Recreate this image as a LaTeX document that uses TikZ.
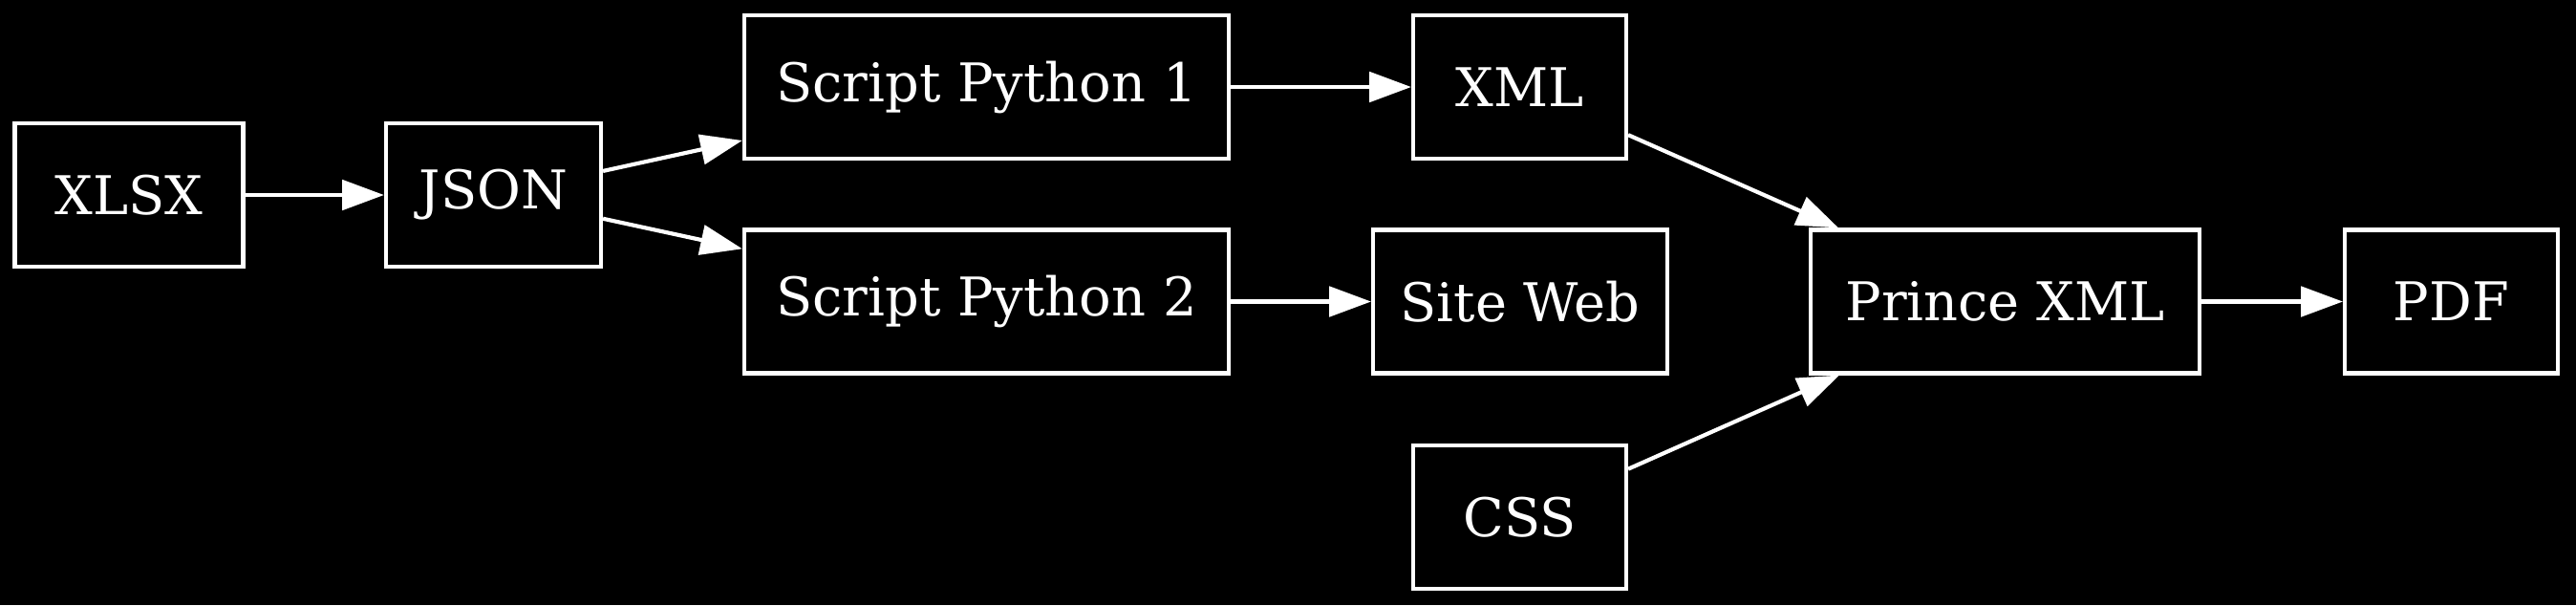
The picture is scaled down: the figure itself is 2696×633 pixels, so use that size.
\documentclass[tikz,border=0pt]{standalone}
\usepackage{fontspec}
\setmainfont{DejaVu Serif}
\usetikzlibrary{arrows.meta}
\tikzset{
  gvbox/.style={draw=white, line width=1pt, text=white, rectangle, minimum height=36pt, inner sep=0pt, font=\fontsize{13.4}{15}\selectfont},
  gvedge/.style={draw=white, line width=1pt, -{Triangle[length=10.5pt,width=7.5pt,fill=white]}, shorten >=0pt}
}
\begin{document}
\begin{tikzpicture}[x=0.24pt,y=-0.24pt]
\fill[black] (0,0) rectangle (2696,633);
\useasboundingbox (0,0) rectangle (2696,633);
\node[gvbox, minimum width=57.4pt] (xlsx) at (135,204) {XLSX};
\node[gvbox, minimum width=54pt] (json) at (516.5,204) {JSON};
\node[gvbox, minimum width=121.7pt] (sp1) at (1032.5,91) {Script Python 1};
\node[gvbox, minimum width=121.7pt] (sp2) at (1032.5,315.5) {Script Python 2};
\node[gvbox, minimum width=53.5pt] (xml) at (1590.5,91) {XML};
\node[gvbox, minimum width=73.9pt] (web) at (1591,315.5) {Site Web};
\node[gvbox, minimum width=53.5pt] (css) at (1590.5,541) {CSS};
\node[gvbox, minimum width=97.7pt] (prince) at (2098.5,315.5) {Prince XML};
\node[gvbox, minimum width=53.5pt] (pdf) at (2565.5,315.5) {PDF};
\draw[gvedge] (xlsx) -- (json);
\draw[gvedge] (json) -- (sp1);
\draw[gvedge] (json) -- (sp2);
\draw[gvedge] (sp1) -- (xml);
\draw[gvedge] (sp2) -- (web);
\draw[gvedge] (xml) -- (prince);
\draw[gvedge] (css) -- (prince);
\draw[gvedge] (prince) -- (pdf);
\end{tikzpicture}
\end{document}
